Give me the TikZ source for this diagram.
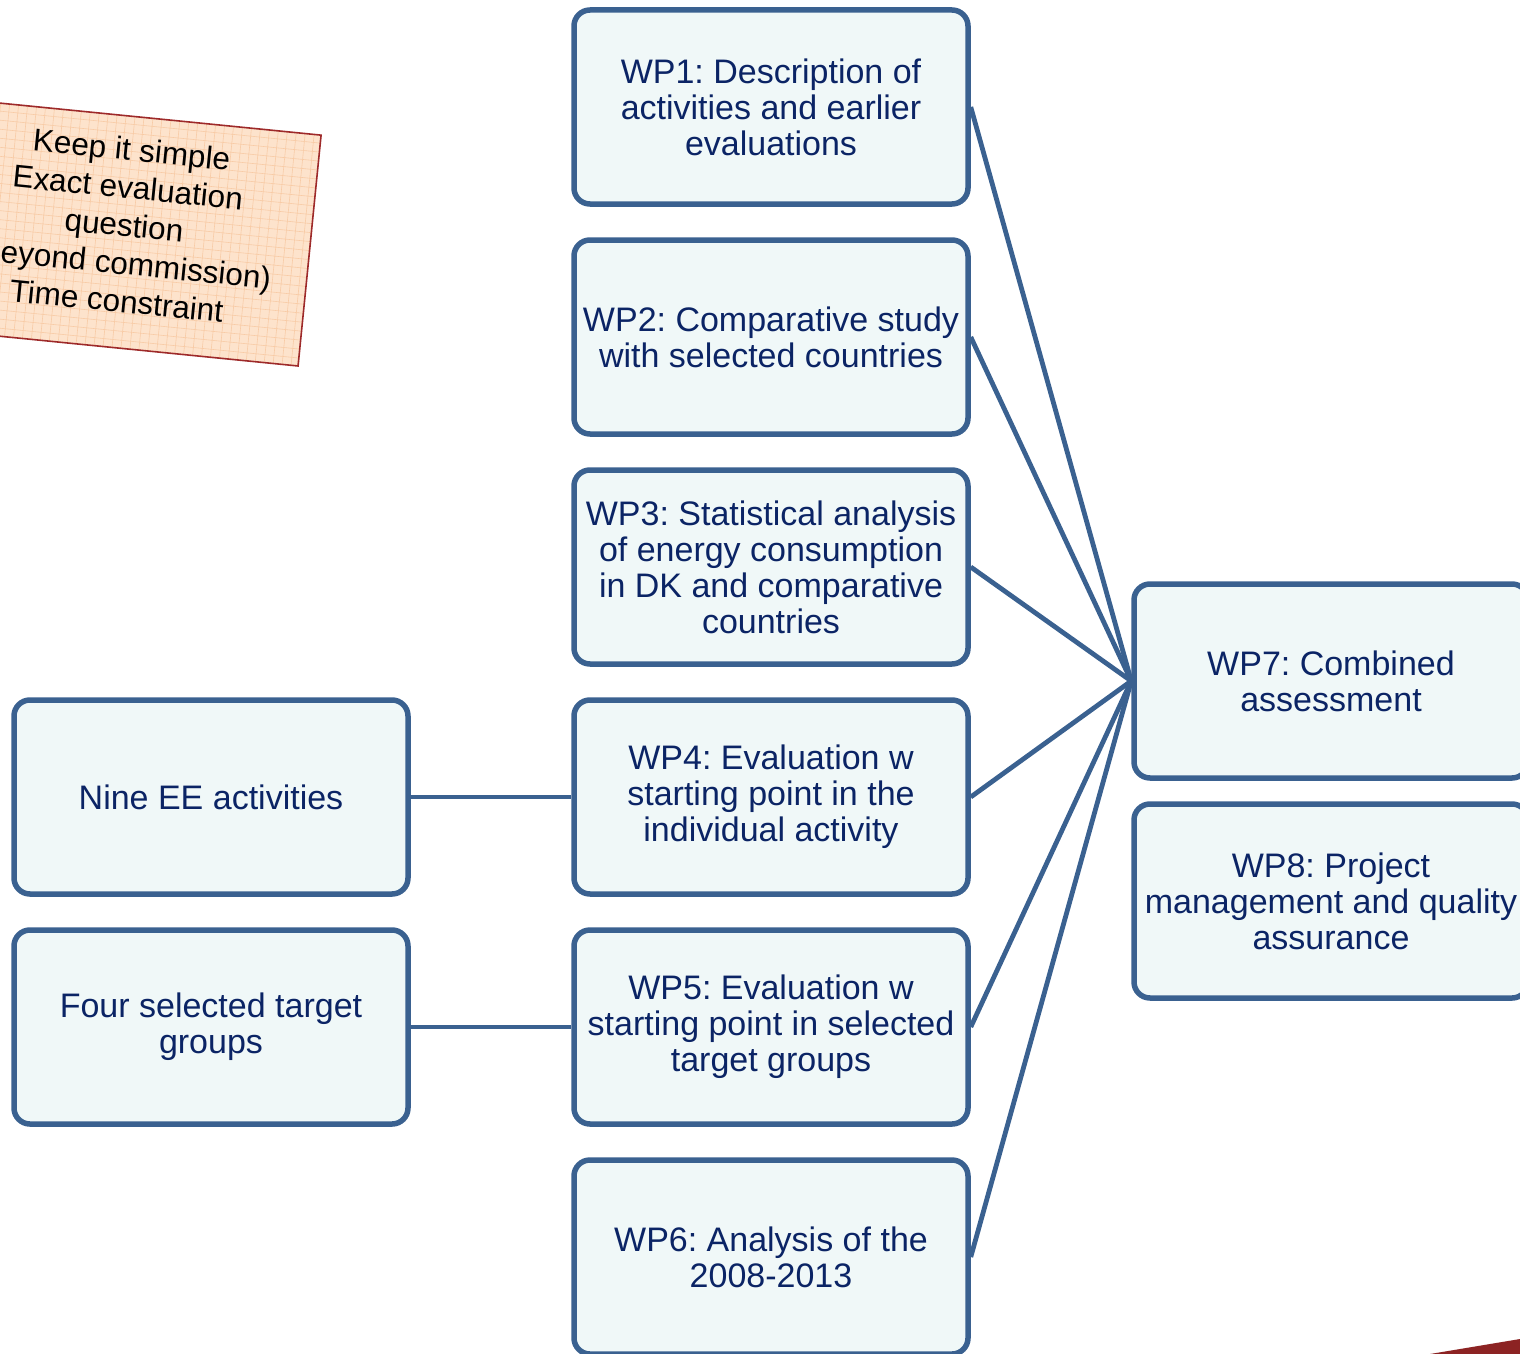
\documentclass[tikz,border=0pt]{standalone}
\usepackage{fontspec}
\setmainfont{Liberation Sans}
\definecolor{bordc}{HTML}{3A6190}
\definecolor{fillc}{HTML}{F0F8F8}
\definecolor{textc}{HTML}{0B2465}
\definecolor{notefill}{HTML}{FDE3CC}
\definecolor{gridc}{HTML}{F8CBA6}
\definecolor{notebord}{HTML}{9E2A2A}
\definecolor{cornerred}{HTML}{8C2323}
\frenchspacing
\begin{document}
\begin{tikzpicture}[x=1pt,y=-1pt,
  wpbox/.style={draw=bordc, fill=fillc, line width=5.5pt, rounded corners=16pt,
    minimum width=394pt, minimum height=194pt, align=center, text=textc,
    font=\fontsize{34}{36}\selectfont, inner sep=0pt},
  link/.style={draw=bordc, line width=4.8pt},
  notetxt/.style={font=\fontsize{31.5}{38}\selectfont, align=center, text=black, transform shape}]
\useasboundingbox (0,0) rectangle (1520,1354);
\clip (0,0) rectangle (1520,1354);

% sticky note
\begin{scope}[shift={(123.5,232)}, rotate=-5.7]
  \begin{scope}
    \clip (-187,-116) rectangle (187,116);
    \fill[notefill] (-187,-116) rectangle (187,116);
    \draw[gridc, line width=0.6pt, step=9pt] (-190,-120) grid (190,120);
  \end{scope}
  \node[draw=notebord, line width=1.6pt, minimum width=374pt, minimum height=232pt,
        inner sep=0pt, transform shape] (note) at (0,0) {};
  \node[notetxt] (notetext) at (0,-7) {Keep it simple\\Exact evaluation\\question\\(Beyond commission)\\Time constraint};
\end{scope}

% work packages
\node[wpbox] (wp1) at (771,107) {WP1: Description of\\activities and earlier\\evaluations};
\node[wpbox] (wp2) at (771,337) {WP2: Comparative study\\with selected countries};
\node[wpbox] (wp3) at (771,567) {WP3: Statistical analysis\\of energy consumption\\in DK and comparative\\countries};
\node[wpbox] (wp4) at (771,797) {WP4: Evaluation w\\starting point in the\\individual activity};
\node[wpbox] (wp5) at (771,1027) {WP5: Evaluation w\\starting point in selected\\target groups};
\node[wpbox] (wp6) at (771,1257) {WP6: Analysis of the\\2008-2013};
\node[wpbox] (nine) at (211,797) {Nine EE activities};
\node[wpbox] (four) at (211,1027) {Four selected target\\groups};
\node[wpbox] (wp7) at (1331,681) {WP7: Combined\\assessment};
\node[wpbox] (wp8) at (1331,901) {WP8: Project\\management and quality\\assurance};

% connectors
\foreach \n in {wp1,wp2,wp3,wp4,wp5,wp6}{
  \draw[link] (\n.east) -- (wp7.west);
}
\draw[link] (nine.east) -- (wp4.west);
\draw[link] (four.east) -- (wp5.west);

% corner shape
\fill[cornerred] (1430,1354) -- (1520,1339) -- (1520,1354) -- cycle;
\end{tikzpicture}
\end{document}
